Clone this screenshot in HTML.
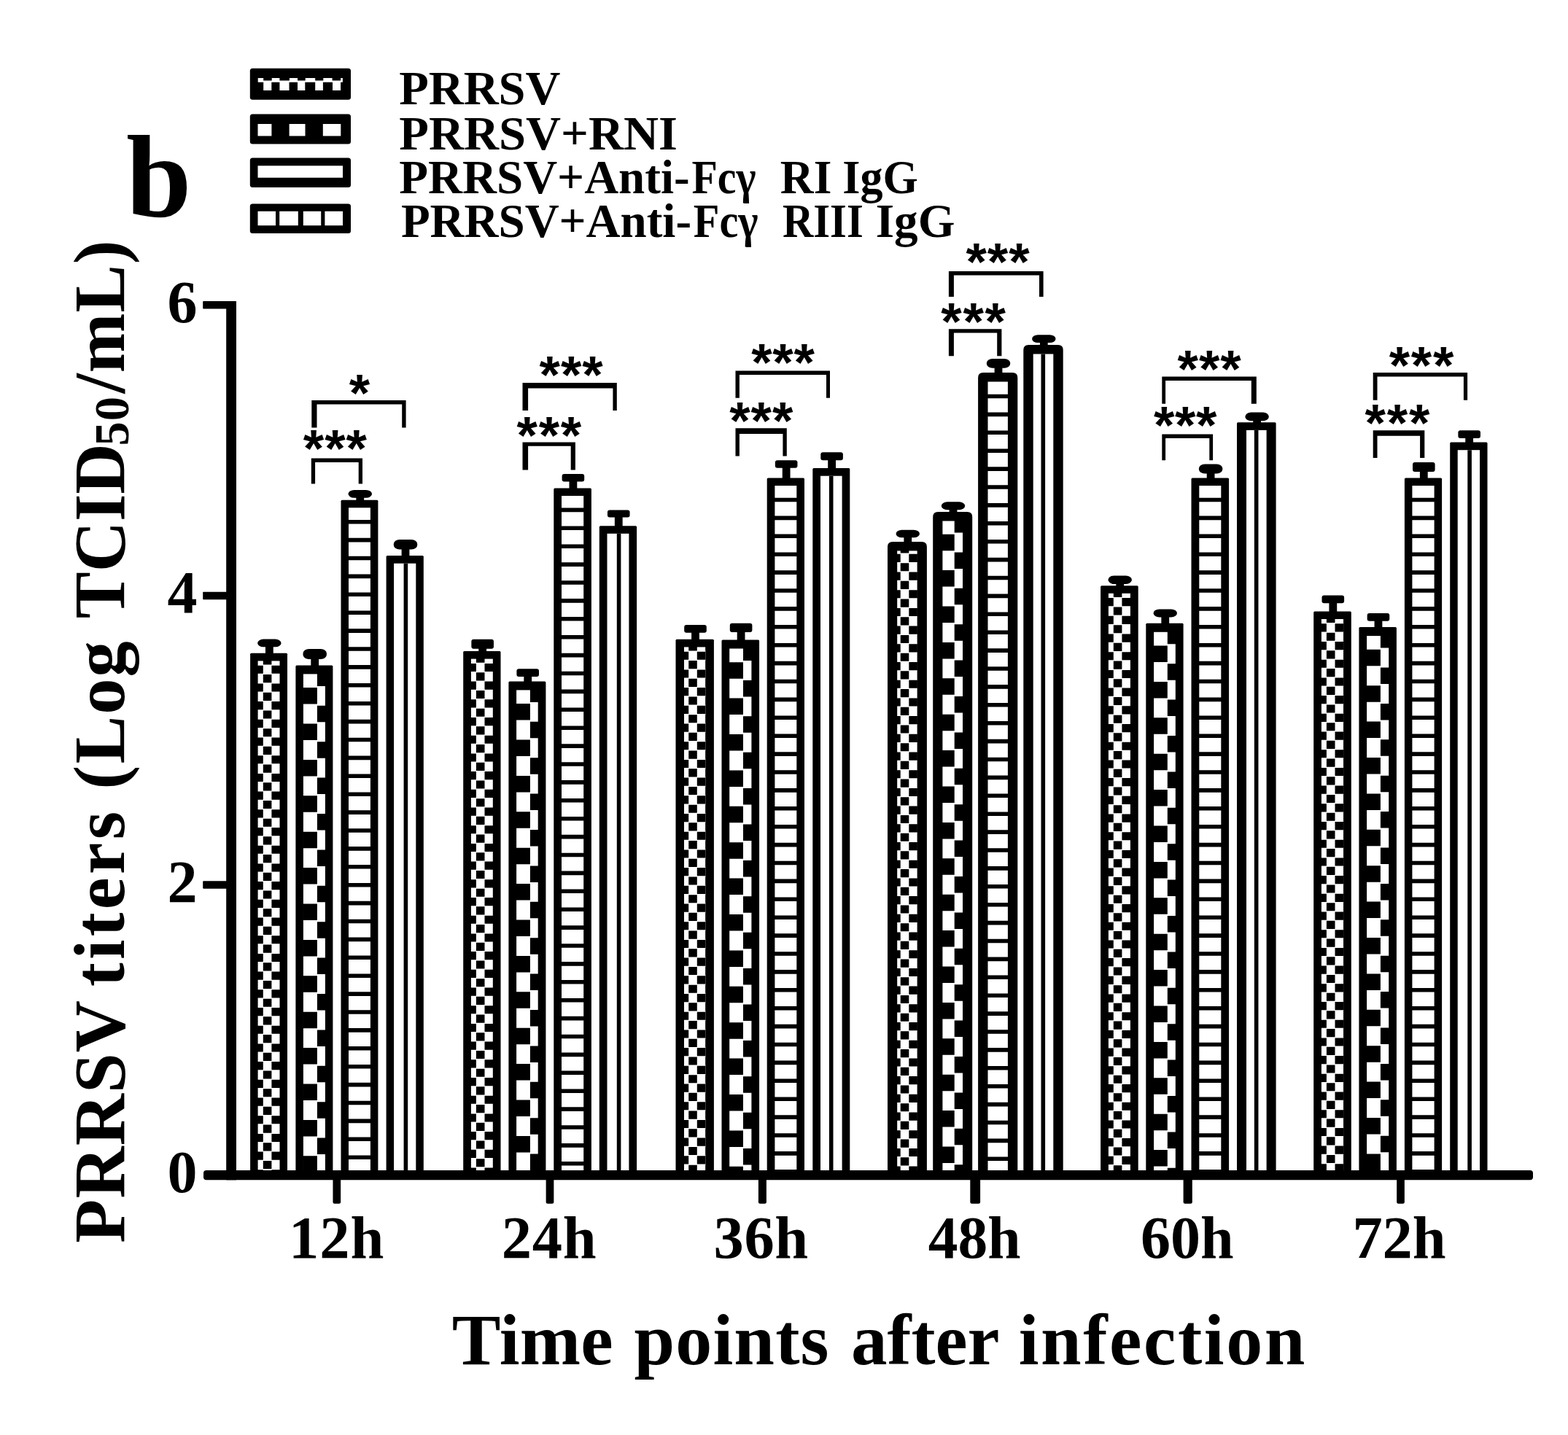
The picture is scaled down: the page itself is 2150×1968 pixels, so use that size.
<!DOCTYPE html>
<html lang="en"><head><meta charset="utf-8"><title>PRRSV titers</title>
<style>html,body{margin:0;padding:0;background:#fff}body{width:2150px;height:1968px}svg{display:block}text{font-family:"Liberation Serif","DejaVu Serif",serif;font-weight:bold;fill:#000}.st{font-family:"Liberation Sans","DejaVu Sans",sans-serif;font-weight:bold}</style></head><body>
<svg width="2150" height="1968" viewBox="0 0 2150 1968" role="img" aria-label="Bar chart of PRRSV titers at time points after infection">
<rect width="2150" height="1968" fill="#fff"/>
<g id="bars" fill="#000">
<path d="M343.1 1606V897.3Q343.1 895.8 344.6 895.8H392.5Q394 895.8 394 897.3V1606z"/>
<rect x="353.6" y="906.4" width="29.9" height="698.6" fill="#fff"/>
<path d="M352.9 912.7h7.9v11.15h-7.9zM352.9 937.4h7.9v11.15h-7.9zM352.9 962.1h7.9v11.15h-7.9zM352.9 986.8h7.9v11.15h-7.9zM352.9 1011.5h7.9v11.15h-7.9zM352.9 1036.2h7.9v11.15h-7.9zM352.9 1060.9h7.9v11.15h-7.9zM352.9 1085.6h7.9v11.15h-7.9zM352.9 1110.3h7.9v11.15h-7.9zM352.9 1135h7.9v11.15h-7.9zM352.9 1159.7h7.9v11.15h-7.9zM352.9 1184.4h7.9v11.15h-7.9zM352.9 1209.1h7.9v11.15h-7.9zM352.9 1233.8h7.9v11.15h-7.9zM352.9 1258.5h7.9v11.15h-7.9zM352.9 1283.2h7.9v11.15h-7.9zM352.9 1307.9h7.9v11.15h-7.9zM352.9 1332.6h7.9v11.15h-7.9zM352.9 1357.3h7.9v11.15h-7.9zM352.9 1382h7.9v11.15h-7.9zM352.9 1406.7h7.9v11.15h-7.9zM352.9 1431.4h7.9v11.15h-7.9zM352.9 1456.1h7.9v11.15h-7.9zM352.9 1480.8h7.9v11.15h-7.9zM352.9 1505.5h7.9v11.15h-7.9zM352.9 1530.2h7.9v11.15h-7.9zM352.9 1554.9h7.9v11.15h-7.9zM352.9 1579.6h7.9v11.15h-7.9zM352.9 1604.3h7.9v1.4h-7.9zM360.8 905.7h11.6v5.8h-11.6zM360.8 925.05h11.6v11.15h-11.6zM360.8 949.75h11.6v11.15h-11.6zM360.8 974.45h11.6v11.15h-11.6zM360.8 999.15h11.6v11.15h-11.6zM360.8 1023.85h11.6v11.15h-11.6zM360.8 1048.55h11.6v11.15h-11.6zM360.8 1073.25h11.6v11.15h-11.6zM360.8 1097.95h11.6v11.15h-11.6zM360.8 1122.65h11.6v11.15h-11.6zM360.8 1147.35h11.6v11.15h-11.6zM360.8 1172.05h11.6v11.15h-11.6zM360.8 1196.75h11.6v11.15h-11.6zM360.8 1221.45h11.6v11.15h-11.6zM360.8 1246.15h11.6v11.15h-11.6zM360.8 1270.85h11.6v11.15h-11.6zM360.8 1295.55h11.6v11.15h-11.6zM360.8 1320.25h11.6v11.15h-11.6zM360.8 1344.95h11.6v11.15h-11.6zM360.8 1369.65h11.6v11.15h-11.6zM360.8 1394.35h11.6v11.15h-11.6zM360.8 1419.05h11.6v11.15h-11.6zM360.8 1443.75h11.6v11.15h-11.6zM360.8 1468.45h11.6v11.15h-11.6zM360.8 1493.15h11.6v11.15h-11.6zM360.8 1517.85h11.6v11.15h-11.6zM360.8 1542.55h11.6v11.15h-11.6zM360.8 1567.25h11.6v11.15h-11.6zM360.8 1591.95h11.6v11.15h-11.6zM372.4 912.7h11.6v11.15h-11.6zM372.4 937.4h11.6v11.15h-11.6zM372.4 962.1h11.6v11.15h-11.6zM372.4 986.8h11.6v11.15h-11.6zM372.4 1011.5h11.6v11.15h-11.6zM372.4 1036.2h11.6v11.15h-11.6zM372.4 1060.9h11.6v11.15h-11.6zM372.4 1085.6h11.6v11.15h-11.6zM372.4 1110.3h11.6v11.15h-11.6zM372.4 1135h11.6v11.15h-11.6zM372.4 1159.7h11.6v11.15h-11.6zM372.4 1184.4h11.6v11.15h-11.6zM372.4 1209.1h11.6v11.15h-11.6zM372.4 1233.8h11.6v11.15h-11.6zM372.4 1258.5h11.6v11.15h-11.6zM372.4 1283.2h11.6v11.15h-11.6zM372.4 1307.9h11.6v11.15h-11.6zM372.4 1332.6h11.6v11.15h-11.6zM372.4 1357.3h11.6v11.15h-11.6zM372.4 1382h11.6v11.15h-11.6zM372.4 1406.7h11.6v11.15h-11.6zM372.4 1431.4h11.6v11.15h-11.6zM372.4 1456.1h11.6v11.15h-11.6zM372.4 1480.8h11.6v11.15h-11.6zM372.4 1505.5h11.6v11.15h-11.6zM372.4 1530.2h11.6v11.15h-11.6zM372.4 1554.9h11.6v11.15h-11.6zM372.4 1579.6h11.6v11.15h-11.6zM372.4 1604.3h11.6v1.4h-11.6zM384 905.7h0.2v5.8h-0.2zM384 925.05h0.2v11.15h-0.2zM384 949.75h0.2v11.15h-0.2zM384 974.45h0.2v11.15h-0.2zM384 999.15h0.2v11.15h-0.2zM384 1023.85h0.2v11.15h-0.2zM384 1048.55h0.2v11.15h-0.2zM384 1073.25h0.2v11.15h-0.2zM384 1097.95h0.2v11.15h-0.2zM384 1122.65h0.2v11.15h-0.2zM384 1147.35h0.2v11.15h-0.2zM384 1172.05h0.2v11.15h-0.2zM384 1196.75h0.2v11.15h-0.2zM384 1221.45h0.2v11.15h-0.2zM384 1246.15h0.2v11.15h-0.2zM384 1270.85h0.2v11.15h-0.2zM384 1295.55h0.2v11.15h-0.2zM384 1320.25h0.2v11.15h-0.2zM384 1344.95h0.2v11.15h-0.2zM384 1369.65h0.2v11.15h-0.2zM384 1394.35h0.2v11.15h-0.2zM384 1419.05h0.2v11.15h-0.2zM384 1443.75h0.2v11.15h-0.2zM384 1468.45h0.2v11.15h-0.2zM384 1493.15h0.2v11.15h-0.2zM384 1517.85h0.2v11.15h-0.2zM384 1542.55h0.2v11.15h-0.2zM384 1567.25h0.2v11.15h-0.2zM384 1591.95h0.2v11.15h-0.2z"/>
<rect x="363.95" y="879.6" width="10.8" height="19.2"/>
<rect x="353.15" y="876.6" width="32.4" height="10.7" rx="8" ry="5.35"/>
<path d="M405.4 1606V913.9Q405.4 912.4 406.9 912.4H454.9Q456.4 912.4 456.4 913.9V1606z"/>
<rect x="415.9" y="924.4" width="30" height="680.6" fill="#fff"/>
<path d="M415.2 943.1h19.7v22.5h-19.7zM415.2 992.5h19.7v22.5h-19.7zM415.2 1041.9h19.7v22.5h-19.7zM415.2 1091.3h19.7v22.5h-19.7zM415.2 1140.7h19.7v22.5h-19.7zM415.2 1190.1h19.7v22.5h-19.7zM415.2 1239.5h19.7v22.5h-19.7zM415.2 1288.9h19.7v22.5h-19.7zM415.2 1338.3h19.7v22.5h-19.7zM415.2 1387.7h19.7v22.5h-19.7zM415.2 1437.1h19.7v22.5h-19.7zM415.2 1486.5h19.7v22.5h-19.7zM415.2 1535.9h19.7v22.5h-19.7zM415.2 1585.3h19.7v20.4h-19.7zM434.9 923.7h11.7v17.2h-11.7zM434.9 967.8h11.7v22.5h-11.7zM434.9 1017.2h11.7v22.5h-11.7zM434.9 1066.6h11.7v22.5h-11.7zM434.9 1116h11.7v22.5h-11.7zM434.9 1165.4h11.7v22.5h-11.7zM434.9 1214.8h11.7v22.5h-11.7zM434.9 1264.2h11.7v22.5h-11.7zM434.9 1313.6h11.7v22.5h-11.7zM434.9 1363h11.7v22.5h-11.7zM434.9 1412.4h11.7v22.5h-11.7zM434.9 1461.8h11.7v22.5h-11.7zM434.9 1511.2h11.7v22.5h-11.7zM434.9 1560.6h11.7v22.5h-11.7z"/>
<rect x="426.3" y="893" width="10.8" height="22.4"/>
<rect x="415.5" y="890" width="32.4" height="14" rx="8" ry="6"/>
<path d="M467.5 1606V687.2Q467.5 685.7 469 685.7H516.9Q518.4 685.7 518.4 687.2V1606z"/>
<rect x="478" y="696.3" width="29.9" height="908.7" fill="#fff"/>
<path d="M477.3 712.9h31.3v5.6h-31.3zM477.3 737.8h31.3v5.6h-31.3zM477.3 762.7h31.3v5.6h-31.3zM477.3 787.6h31.3v5.6h-31.3zM477.3 812.5h31.3v5.6h-31.3zM477.3 837.4h31.3v5.6h-31.3zM477.3 862.3h31.3v5.6h-31.3zM477.3 887.2h31.3v5.6h-31.3zM477.3 912.1h31.3v5.6h-31.3zM477.3 937h31.3v5.6h-31.3zM477.3 961.9h31.3v5.6h-31.3zM477.3 986.8h31.3v5.6h-31.3zM477.3 1011.7h31.3v5.6h-31.3zM477.3 1036.6h31.3v5.6h-31.3zM477.3 1061.5h31.3v5.6h-31.3zM477.3 1086.4h31.3v5.6h-31.3zM477.3 1111.3h31.3v5.6h-31.3zM477.3 1136.2h31.3v5.6h-31.3zM477.3 1161.1h31.3v5.6h-31.3zM477.3 1186h31.3v5.6h-31.3zM477.3 1210.9h31.3v5.6h-31.3zM477.3 1235.8h31.3v5.6h-31.3zM477.3 1260.7h31.3v5.6h-31.3zM477.3 1285.6h31.3v5.6h-31.3zM477.3 1310.5h31.3v5.6h-31.3zM477.3 1335.4h31.3v5.6h-31.3zM477.3 1360.3h31.3v5.6h-31.3zM477.3 1385.2h31.3v5.6h-31.3zM477.3 1410.1h31.3v5.6h-31.3zM477.3 1435h31.3v5.6h-31.3zM477.3 1459.9h31.3v5.6h-31.3zM477.3 1484.8h31.3v5.6h-31.3zM477.3 1509.7h31.3v5.6h-31.3zM477.3 1534.6h31.3v5.6h-31.3zM477.3 1559.5h31.3v5.6h-31.3zM477.3 1584.4h31.3v5.6h-31.3z"/>
<rect x="488.35" y="674.9" width="10.8" height="13.8"/>
<rect x="477.55" y="671.9" width="32.4" height="10.9" rx="8" ry="5.45"/>
<path d="M529.6 1606V763.6Q529.6 762.1 531.1 762.1H579.3Q580.8 762.1 580.8 763.6V1606z"/>
<rect x="540.1" y="772.7" width="30.2" height="832.3" fill="#fff"/>
<path d="M553.6 772.7h5.6v832.3h-5.6z"/>
<rect x="550.6" y="743" width="10.8" height="22.1"/>
<rect x="539.8" y="740" width="32.4" height="13.5" rx="8" ry="6"/>
<path d="M635.2 1606V894.5Q635.2 893 636.7 893H685Q686.5 893 686.5 894.5V1606z"/>
<rect x="645.9" y="903.6" width="29.9" height="701.4" fill="#fff"/>
<path d="M645.2 909.9h7.7v11.15h-7.7zM645.2 934.6h7.7v11.15h-7.7zM645.2 959.3h7.7v11.15h-7.7zM645.2 984h7.7v11.15h-7.7zM645.2 1008.7h7.7v11.15h-7.7zM645.2 1033.4h7.7v11.15h-7.7zM645.2 1058.1h7.7v11.15h-7.7zM645.2 1082.8h7.7v11.15h-7.7zM645.2 1107.5h7.7v11.15h-7.7zM645.2 1132.2h7.7v11.15h-7.7zM645.2 1156.9h7.7v11.15h-7.7zM645.2 1181.6h7.7v11.15h-7.7zM645.2 1206.3h7.7v11.15h-7.7zM645.2 1231h7.7v11.15h-7.7zM645.2 1255.7h7.7v11.15h-7.7zM645.2 1280.4h7.7v11.15h-7.7zM645.2 1305.1h7.7v11.15h-7.7zM645.2 1329.8h7.7v11.15h-7.7zM645.2 1354.5h7.7v11.15h-7.7zM645.2 1379.2h7.7v11.15h-7.7zM645.2 1403.9h7.7v11.15h-7.7zM645.2 1428.6h7.7v11.15h-7.7zM645.2 1453.3h7.7v11.15h-7.7zM645.2 1478h7.7v11.15h-7.7zM645.2 1502.7h7.7v11.15h-7.7zM645.2 1527.4h7.7v11.15h-7.7zM645.2 1552.1h7.7v11.15h-7.7zM645.2 1576.8h7.7v11.15h-7.7zM645.2 1601.5h7.7v4.2h-7.7zM652.9 902.9h11.6v5.8h-11.6zM652.9 922.25h11.6v11.15h-11.6zM652.9 946.95h11.6v11.15h-11.6zM652.9 971.65h11.6v11.15h-11.6zM652.9 996.35h11.6v11.15h-11.6zM652.9 1021.05h11.6v11.15h-11.6zM652.9 1045.75h11.6v11.15h-11.6zM652.9 1070.45h11.6v11.15h-11.6zM652.9 1095.15h11.6v11.15h-11.6zM652.9 1119.85h11.6v11.15h-11.6zM652.9 1144.55h11.6v11.15h-11.6zM652.9 1169.25h11.6v11.15h-11.6zM652.9 1193.95h11.6v11.15h-11.6zM652.9 1218.65h11.6v11.15h-11.6zM652.9 1243.35h11.6v11.15h-11.6zM652.9 1268.05h11.6v11.15h-11.6zM652.9 1292.75h11.6v11.15h-11.6zM652.9 1317.45h11.6v11.15h-11.6zM652.9 1342.15h11.6v11.15h-11.6zM652.9 1366.85h11.6v11.15h-11.6zM652.9 1391.55h11.6v11.15h-11.6zM652.9 1416.25h11.6v11.15h-11.6zM652.9 1440.95h11.6v11.15h-11.6zM652.9 1465.65h11.6v11.15h-11.6zM652.9 1490.35h11.6v11.15h-11.6zM652.9 1515.05h11.6v11.15h-11.6zM652.9 1539.75h11.6v11.15h-11.6zM652.9 1564.45h11.6v11.15h-11.6zM652.9 1589.15h11.6v11.15h-11.6zM664.5 909.9h11.6v11.15h-11.6zM664.5 934.6h11.6v11.15h-11.6zM664.5 959.3h11.6v11.15h-11.6zM664.5 984h11.6v11.15h-11.6zM664.5 1008.7h11.6v11.15h-11.6zM664.5 1033.4h11.6v11.15h-11.6zM664.5 1058.1h11.6v11.15h-11.6zM664.5 1082.8h11.6v11.15h-11.6zM664.5 1107.5h11.6v11.15h-11.6zM664.5 1132.2h11.6v11.15h-11.6zM664.5 1156.9h11.6v11.15h-11.6zM664.5 1181.6h11.6v11.15h-11.6zM664.5 1206.3h11.6v11.15h-11.6zM664.5 1231h11.6v11.15h-11.6zM664.5 1255.7h11.6v11.15h-11.6zM664.5 1280.4h11.6v11.15h-11.6zM664.5 1305.1h11.6v11.15h-11.6zM664.5 1329.8h11.6v11.15h-11.6zM664.5 1354.5h11.6v11.15h-11.6zM664.5 1379.2h11.6v11.15h-11.6zM664.5 1403.9h11.6v11.15h-11.6zM664.5 1428.6h11.6v11.15h-11.6zM664.5 1453.3h11.6v11.15h-11.6zM664.5 1478h11.6v11.15h-11.6zM664.5 1502.7h11.6v11.15h-11.6zM664.5 1527.4h11.6v11.15h-11.6zM664.5 1552.1h11.6v11.15h-11.6zM664.5 1576.8h11.6v11.15h-11.6zM664.5 1601.5h11.6v4.2h-11.6zM676.1 902.9h0.4v5.8h-0.4zM676.1 922.25h0.4v11.15h-0.4zM676.1 946.95h0.4v11.15h-0.4zM676.1 971.65h0.4v11.15h-0.4zM676.1 996.35h0.4v11.15h-0.4zM676.1 1021.05h0.4v11.15h-0.4zM676.1 1045.75h0.4v11.15h-0.4zM676.1 1070.45h0.4v11.15h-0.4zM676.1 1095.15h0.4v11.15h-0.4zM676.1 1119.85h0.4v11.15h-0.4zM676.1 1144.55h0.4v11.15h-0.4zM676.1 1169.25h0.4v11.15h-0.4zM676.1 1193.95h0.4v11.15h-0.4zM676.1 1218.65h0.4v11.15h-0.4zM676.1 1243.35h0.4v11.15h-0.4zM676.1 1268.05h0.4v11.15h-0.4zM676.1 1292.75h0.4v11.15h-0.4zM676.1 1317.45h0.4v11.15h-0.4zM676.1 1342.15h0.4v11.15h-0.4zM676.1 1366.85h0.4v11.15h-0.4zM676.1 1391.55h0.4v11.15h-0.4zM676.1 1416.25h0.4v11.15h-0.4zM676.1 1440.95h0.4v11.15h-0.4zM676.1 1465.65h0.4v11.15h-0.4zM676.1 1490.35h0.4v11.15h-0.4zM676.1 1515.05h0.4v11.15h-0.4zM676.1 1539.75h0.4v11.15h-0.4zM676.1 1564.45h0.4v11.15h-0.4zM676.1 1589.15h0.4v11.15h-0.4z"/>
<rect x="656.25" y="879.8" width="10.8" height="16.2"/>
<rect x="646.35" y="876.8" width="30.6" height="12.9" rx="3" ry="3"/>
<path d="M697.4 1606V935.9Q697.4 934.4 698.9 934.4H746.9Q748.4 934.4 748.4 935.9V1606z"/>
<rect x="708.1" y="946.4" width="29.6" height="658.6" fill="#fff"/>
<path d="M707.4 965.1h19.5v22.5h-19.5zM707.4 1014.5h19.5v22.5h-19.5zM707.4 1063.9h19.5v22.5h-19.5zM707.4 1113.3h19.5v22.5h-19.5zM707.4 1162.7h19.5v22.5h-19.5zM707.4 1212.1h19.5v22.5h-19.5zM707.4 1261.5h19.5v22.5h-19.5zM707.4 1310.9h19.5v22.5h-19.5zM707.4 1360.3h19.5v22.5h-19.5zM707.4 1409.7h19.5v22.5h-19.5zM707.4 1459.1h19.5v22.5h-19.5zM707.4 1508.5h19.5v22.5h-19.5zM707.4 1557.9h19.5v22.5h-19.5zM726.9 945.7h11.5v17.2h-11.5zM726.9 989.8h11.5v22.5h-11.5zM726.9 1039.2h11.5v22.5h-11.5zM726.9 1088.6h11.5v22.5h-11.5zM726.9 1138h11.5v22.5h-11.5zM726.9 1187.4h11.5v22.5h-11.5zM726.9 1236.8h11.5v22.5h-11.5zM726.9 1286.2h11.5v22.5h-11.5zM726.9 1335.6h11.5v22.5h-11.5zM726.9 1385h11.5v22.5h-11.5zM726.9 1434.4h11.5v22.5h-11.5zM726.9 1483.8h11.5v22.5h-11.5zM726.9 1533.2h11.5v22.5h-11.5zM726.9 1582.6h11.5v22.5h-11.5z"/>
<rect x="718.3" y="920.3" width="10.8" height="17.1"/>
<rect x="708.4" y="917.3" width="30.6" height="10.7" rx="3" ry="3"/>
<path d="M759.3 1606V670.9Q759.3 669.4 760.8 669.4H809.4Q810.9 669.4 810.9 670.9V1606z"/>
<rect x="770" y="680" width="30.2" height="925" fill="#fff"/>
<path d="M769.3 696.6h31.6v5.6h-31.6zM769.3 721.5h31.6v5.6h-31.6zM769.3 746.4h31.6v5.6h-31.6zM769.3 771.3h31.6v5.6h-31.6zM769.3 796.2h31.6v5.6h-31.6zM769.3 821.1h31.6v5.6h-31.6zM769.3 846h31.6v5.6h-31.6zM769.3 870.9h31.6v5.6h-31.6zM769.3 895.8h31.6v5.6h-31.6zM769.3 920.7h31.6v5.6h-31.6zM769.3 945.6h31.6v5.6h-31.6zM769.3 970.5h31.6v5.6h-31.6zM769.3 995.4h31.6v5.6h-31.6zM769.3 1020.3h31.6v5.6h-31.6zM769.3 1045.2h31.6v5.6h-31.6zM769.3 1070.1h31.6v5.6h-31.6zM769.3 1095h31.6v5.6h-31.6zM769.3 1119.9h31.6v5.6h-31.6zM769.3 1144.8h31.6v5.6h-31.6zM769.3 1169.7h31.6v5.6h-31.6zM769.3 1194.6h31.6v5.6h-31.6zM769.3 1219.5h31.6v5.6h-31.6zM769.3 1244.4h31.6v5.6h-31.6zM769.3 1269.3h31.6v5.6h-31.6zM769.3 1294.2h31.6v5.6h-31.6zM769.3 1319.1h31.6v5.6h-31.6zM769.3 1344h31.6v5.6h-31.6zM769.3 1368.9h31.6v5.6h-31.6zM769.3 1393.8h31.6v5.6h-31.6zM769.3 1418.7h31.6v5.6h-31.6zM769.3 1443.6h31.6v5.6h-31.6zM769.3 1468.5h31.6v5.6h-31.6zM769.3 1493.4h31.6v5.6h-31.6zM769.3 1518.3h31.6v5.6h-31.6zM769.3 1543.2h31.6v5.6h-31.6zM769.3 1568.1h31.6v5.6h-31.6zM769.3 1593h31.6v5.6h-31.6z"/>
<rect x="780.5" y="653" width="10.8" height="19.4"/>
<rect x="770.6" y="650" width="30.6" height="10.6" rx="3" ry="3"/>
<path d="M821.8 1606V722.7Q821.8 721.2 823.3 721.2H871.6Q873.1 721.2 873.1 722.7V1606z"/>
<rect x="832.5" y="731.8" width="29.9" height="873.2" fill="#fff"/>
<path d="M845.8 731.8h5.6v873.2h-5.6z"/>
<rect x="842.85" y="702.4" width="10.8" height="21.8"/>
<rect x="832.95" y="699.4" width="30.6" height="10.2" rx="3" ry="3"/>
<path d="M926.5 1606V878.3Q926.5 876.8 928 876.8H977.4Q978.9 876.8 978.9 878.3V1606z"/>
<rect x="938" y="887.4" width="29.4" height="717.6" fill="#fff"/>
<path d="M937.3 893.7h6.9v11.15h-6.9zM937.3 918.4h6.9v11.15h-6.9zM937.3 943.1h6.9v11.15h-6.9zM937.3 967.8h6.9v11.15h-6.9zM937.3 992.5h6.9v11.15h-6.9zM937.3 1017.2h6.9v11.15h-6.9zM937.3 1041.9h6.9v11.15h-6.9zM937.3 1066.6h6.9v11.15h-6.9zM937.3 1091.3h6.9v11.15h-6.9zM937.3 1116h6.9v11.15h-6.9zM937.3 1140.7h6.9v11.15h-6.9zM937.3 1165.4h6.9v11.15h-6.9zM937.3 1190.1h6.9v11.15h-6.9zM937.3 1214.8h6.9v11.15h-6.9zM937.3 1239.5h6.9v11.15h-6.9zM937.3 1264.2h6.9v11.15h-6.9zM937.3 1288.9h6.9v11.15h-6.9zM937.3 1313.6h6.9v11.15h-6.9zM937.3 1338.3h6.9v11.15h-6.9zM937.3 1363h6.9v11.15h-6.9zM937.3 1387.7h6.9v11.15h-6.9zM937.3 1412.4h6.9v11.15h-6.9zM937.3 1437.1h6.9v11.15h-6.9zM937.3 1461.8h6.9v11.15h-6.9zM937.3 1486.5h6.9v11.15h-6.9zM937.3 1511.2h6.9v11.15h-6.9zM937.3 1535.9h6.9v11.15h-6.9zM937.3 1560.6h6.9v11.15h-6.9zM937.3 1585.3h6.9v11.15h-6.9zM944.2 886.7h11.6v5.8h-11.6zM944.2 906.05h11.6v11.15h-11.6zM944.2 930.75h11.6v11.15h-11.6zM944.2 955.45h11.6v11.15h-11.6zM944.2 980.15h11.6v11.15h-11.6zM944.2 1004.85h11.6v11.15h-11.6zM944.2 1029.55h11.6v11.15h-11.6zM944.2 1054.25h11.6v11.15h-11.6zM944.2 1078.95h11.6v11.15h-11.6zM944.2 1103.65h11.6v11.15h-11.6zM944.2 1128.35h11.6v11.15h-11.6zM944.2 1153.05h11.6v11.15h-11.6zM944.2 1177.75h11.6v11.15h-11.6zM944.2 1202.45h11.6v11.15h-11.6zM944.2 1227.15h11.6v11.15h-11.6zM944.2 1251.85h11.6v11.15h-11.6zM944.2 1276.55h11.6v11.15h-11.6zM944.2 1301.25h11.6v11.15h-11.6zM944.2 1325.95h11.6v11.15h-11.6zM944.2 1350.65h11.6v11.15h-11.6zM944.2 1375.35h11.6v11.15h-11.6zM944.2 1400.05h11.6v11.15h-11.6zM944.2 1424.75h11.6v11.15h-11.6zM944.2 1449.45h11.6v11.15h-11.6zM944.2 1474.15h11.6v11.15h-11.6zM944.2 1498.85h11.6v11.15h-11.6zM944.2 1523.55h11.6v11.15h-11.6zM944.2 1548.25h11.6v11.15h-11.6zM944.2 1572.95h11.6v11.15h-11.6zM944.2 1597.65h11.6v8.05h-11.6zM955.8 893.7h11.6v11.15h-11.6zM955.8 918.4h11.6v11.15h-11.6zM955.8 943.1h11.6v11.15h-11.6zM955.8 967.8h11.6v11.15h-11.6zM955.8 992.5h11.6v11.15h-11.6zM955.8 1017.2h11.6v11.15h-11.6zM955.8 1041.9h11.6v11.15h-11.6zM955.8 1066.6h11.6v11.15h-11.6zM955.8 1091.3h11.6v11.15h-11.6zM955.8 1116h11.6v11.15h-11.6zM955.8 1140.7h11.6v11.15h-11.6zM955.8 1165.4h11.6v11.15h-11.6zM955.8 1190.1h11.6v11.15h-11.6zM955.8 1214.8h11.6v11.15h-11.6zM955.8 1239.5h11.6v11.15h-11.6zM955.8 1264.2h11.6v11.15h-11.6zM955.8 1288.9h11.6v11.15h-11.6zM955.8 1313.6h11.6v11.15h-11.6zM955.8 1338.3h11.6v11.15h-11.6zM955.8 1363h11.6v11.15h-11.6zM955.8 1387.7h11.6v11.15h-11.6zM955.8 1412.4h11.6v11.15h-11.6zM955.8 1437.1h11.6v11.15h-11.6zM955.8 1461.8h11.6v11.15h-11.6zM955.8 1486.5h11.6v11.15h-11.6zM955.8 1511.2h11.6v11.15h-11.6zM955.8 1535.9h11.6v11.15h-11.6zM955.8 1560.6h11.6v11.15h-11.6zM955.8 1585.3h11.6v11.15h-11.6zM967.4 886.7h0.7v5.8h-0.7zM967.4 906.05h0.7v11.15h-0.7zM967.4 930.75h0.7v11.15h-0.7zM967.4 955.45h0.7v11.15h-0.7zM967.4 980.15h0.7v11.15h-0.7zM967.4 1004.85h0.7v11.15h-0.7zM967.4 1029.55h0.7v11.15h-0.7zM967.4 1054.25h0.7v11.15h-0.7zM967.4 1078.95h0.7v11.15h-0.7zM967.4 1103.65h0.7v11.15h-0.7zM967.4 1128.35h0.7v11.15h-0.7zM967.4 1153.05h0.7v11.15h-0.7zM967.4 1177.75h0.7v11.15h-0.7zM967.4 1202.45h0.7v11.15h-0.7zM967.4 1227.15h0.7v11.15h-0.7zM967.4 1251.85h0.7v11.15h-0.7zM967.4 1276.55h0.7v11.15h-0.7zM967.4 1301.25h0.7v11.15h-0.7zM967.4 1325.95h0.7v11.15h-0.7zM967.4 1350.65h0.7v11.15h-0.7zM967.4 1375.35h0.7v11.15h-0.7zM967.4 1400.05h0.7v11.15h-0.7zM967.4 1424.75h0.7v11.15h-0.7zM967.4 1449.45h0.7v11.15h-0.7zM967.4 1474.15h0.7v11.15h-0.7zM967.4 1498.85h0.7v11.15h-0.7zM967.4 1523.55h0.7v11.15h-0.7zM967.4 1548.25h0.7v11.15h-0.7zM967.4 1572.95h0.7v11.15h-0.7zM967.4 1597.65h0.7v8.05h-0.7z"/>
<rect x="948.1" y="860" width="10.8" height="19.8"/>
<rect x="938.2" y="857" width="30.6" height="10.7" rx="3" ry="3"/>
<path d="M989.5 1606V879Q989.5 877.5 991 877.5H1039.6Q1041.1 877.5 1041.1 879V1606z"/>
<rect x="1000.2" y="889.5" width="30.2" height="715.5" fill="#fff"/>
<path d="M999.5 908.2h19.5v22.5h-19.5zM999.5 957.6h19.5v22.5h-19.5zM999.5 1007h19.5v22.5h-19.5zM999.5 1056.4h19.5v22.5h-19.5zM999.5 1105.8h19.5v22.5h-19.5zM999.5 1155.2h19.5v22.5h-19.5zM999.5 1204.6h19.5v22.5h-19.5zM999.5 1254h19.5v22.5h-19.5zM999.5 1303.4h19.5v22.5h-19.5zM999.5 1352.8h19.5v22.5h-19.5zM999.5 1402.2h19.5v22.5h-19.5zM999.5 1451.6h19.5v22.5h-19.5zM999.5 1501h19.5v22.5h-19.5zM999.5 1550.4h19.5v22.5h-19.5zM999.5 1599.8h19.5v5.9h-19.5zM1019 888.8h12.1v17.2h-12.1zM1019 932.9h12.1v22.5h-12.1zM1019 982.3h12.1v22.5h-12.1zM1019 1031.7h12.1v22.5h-12.1zM1019 1081.1h12.1v22.5h-12.1zM1019 1130.5h12.1v22.5h-12.1zM1019 1179.9h12.1v22.5h-12.1zM1019 1229.3h12.1v22.5h-12.1zM1019 1278.7h12.1v22.5h-12.1zM1019 1328.1h12.1v22.5h-12.1zM1019 1377.5h12.1v22.5h-12.1zM1019 1426.9h12.1v22.5h-12.1zM1019 1476.3h12.1v22.5h-12.1zM1019 1525.7h12.1v22.5h-12.1zM1019 1575.1h12.1v22.5h-12.1z"/>
<rect x="1010.7" y="857.8" width="10.8" height="22.7"/>
<rect x="1000.8" y="854.8" width="30.6" height="12.2" rx="3" ry="3"/>
<path d="M1051.7 1606V657Q1051.7 655.5 1053.2 655.5H1101.5Q1103 655.5 1103 657V1606z"/>
<rect x="1062.4" y="666.1" width="29.9" height="938.9" fill="#fff"/>
<path d="M1061.7 682.7h31.3v5.6h-31.3zM1061.7 707.6h31.3v5.6h-31.3zM1061.7 732.5h31.3v5.6h-31.3zM1061.7 757.4h31.3v5.6h-31.3zM1061.7 782.3h31.3v5.6h-31.3zM1061.7 807.2h31.3v5.6h-31.3zM1061.7 832.1h31.3v5.6h-31.3zM1061.7 857h31.3v5.6h-31.3zM1061.7 881.9h31.3v5.6h-31.3zM1061.7 906.8h31.3v5.6h-31.3zM1061.7 931.7h31.3v5.6h-31.3zM1061.7 956.6h31.3v5.6h-31.3zM1061.7 981.5h31.3v5.6h-31.3zM1061.7 1006.4h31.3v5.6h-31.3zM1061.7 1031.3h31.3v5.6h-31.3zM1061.7 1056.2h31.3v5.6h-31.3zM1061.7 1081.1h31.3v5.6h-31.3zM1061.7 1106h31.3v5.6h-31.3zM1061.7 1130.9h31.3v5.6h-31.3zM1061.7 1155.8h31.3v5.6h-31.3zM1061.7 1180.7h31.3v5.6h-31.3zM1061.7 1205.6h31.3v5.6h-31.3zM1061.7 1230.5h31.3v5.6h-31.3zM1061.7 1255.4h31.3v5.6h-31.3zM1061.7 1280.3h31.3v5.6h-31.3zM1061.7 1305.2h31.3v5.6h-31.3zM1061.7 1330.1h31.3v5.6h-31.3zM1061.7 1355h31.3v5.6h-31.3zM1061.7 1379.9h31.3v5.6h-31.3zM1061.7 1404.8h31.3v5.6h-31.3zM1061.7 1429.7h31.3v5.6h-31.3zM1061.7 1454.6h31.3v5.6h-31.3zM1061.7 1479.5h31.3v5.6h-31.3zM1061.7 1504.4h31.3v5.6h-31.3zM1061.7 1529.3h31.3v5.6h-31.3zM1061.7 1554.2h31.3v5.6h-31.3zM1061.7 1579.1h31.3v5.6h-31.3zM1061.7 1604h31.3v1.7h-31.3z"/>
<rect x="1072.75" y="634.2" width="10.8" height="24.3"/>
<rect x="1062.85" y="631.2" width="30.6" height="10.6" rx="3" ry="3"/>
<path d="M1114.3 1606V643.6Q1114.3 642.1 1115.8 642.1H1163.8Q1165.3 642.1 1165.3 643.6V1606z"/>
<rect x="1125" y="652.7" width="29.6" height="952.3" fill="#fff"/>
<path d="M1136.9 652.7h5.6v952.3h-5.6z"/>
<rect x="1135.2" y="623.3" width="10.8" height="21.8"/>
<rect x="1125.3" y="620.3" width="30.6" height="10.9" rx="3" ry="3"/>
<path d="M1217 1606V749.9Q1217 742.9 1224 742.9H1263.9Q1270.9 742.9 1270.9 749.9V1606z"/>
<rect x="1230.2" y="755.4" width="27.5" height="849.6" fill="#fff"/>
<path d="M1229.5 759.8h5.2v11.15h-5.2zM1229.5 784.5h5.2v11.15h-5.2zM1229.5 809.2h5.2v11.15h-5.2zM1229.5 833.9h5.2v11.15h-5.2zM1229.5 858.6h5.2v11.15h-5.2zM1229.5 883.3h5.2v11.15h-5.2zM1229.5 908h5.2v11.15h-5.2zM1229.5 932.7h5.2v11.15h-5.2zM1229.5 957.4h5.2v11.15h-5.2zM1229.5 982.1h5.2v11.15h-5.2zM1229.5 1006.8h5.2v11.15h-5.2zM1229.5 1031.5h5.2v11.15h-5.2zM1229.5 1056.2h5.2v11.15h-5.2zM1229.5 1080.9h5.2v11.15h-5.2zM1229.5 1105.6h5.2v11.15h-5.2zM1229.5 1130.3h5.2v11.15h-5.2zM1229.5 1155h5.2v11.15h-5.2zM1229.5 1179.7h5.2v11.15h-5.2zM1229.5 1204.4h5.2v11.15h-5.2zM1229.5 1229.1h5.2v11.15h-5.2zM1229.5 1253.8h5.2v11.15h-5.2zM1229.5 1278.5h5.2v11.15h-5.2zM1229.5 1303.2h5.2v11.15h-5.2zM1229.5 1327.9h5.2v11.15h-5.2zM1229.5 1352.6h5.2v11.15h-5.2zM1229.5 1377.3h5.2v11.15h-5.2zM1229.5 1402h5.2v11.15h-5.2zM1229.5 1426.7h5.2v11.15h-5.2zM1229.5 1451.4h5.2v11.15h-5.2zM1229.5 1476.1h5.2v11.15h-5.2zM1229.5 1500.8h5.2v11.15h-5.2zM1229.5 1525.5h5.2v11.15h-5.2zM1229.5 1550.2h5.2v11.15h-5.2zM1229.5 1574.9h5.2v11.15h-5.2zM1229.5 1599.6h5.2v6.1h-5.2zM1234.7 754.7h11.6v3.9h-11.6zM1234.7 772.15h11.6v11.15h-11.6zM1234.7 796.85h11.6v11.15h-11.6zM1234.7 821.55h11.6v11.15h-11.6zM1234.7 846.25h11.6v11.15h-11.6zM1234.7 870.95h11.6v11.15h-11.6zM1234.7 895.65h11.6v11.15h-11.6zM1234.7 920.35h11.6v11.15h-11.6zM1234.7 945.05h11.6v11.15h-11.6zM1234.7 969.75h11.6v11.15h-11.6zM1234.7 994.45h11.6v11.15h-11.6zM1234.7 1019.15h11.6v11.15h-11.6zM1234.7 1043.85h11.6v11.15h-11.6zM1234.7 1068.55h11.6v11.15h-11.6zM1234.7 1093.25h11.6v11.15h-11.6zM1234.7 1117.95h11.6v11.15h-11.6zM1234.7 1142.65h11.6v11.15h-11.6zM1234.7 1167.35h11.6v11.15h-11.6zM1234.7 1192.05h11.6v11.15h-11.6zM1234.7 1216.75h11.6v11.15h-11.6zM1234.7 1241.45h11.6v11.15h-11.6zM1234.7 1266.15h11.6v11.15h-11.6zM1234.7 1290.85h11.6v11.15h-11.6zM1234.7 1315.55h11.6v11.15h-11.6zM1234.7 1340.25h11.6v11.15h-11.6zM1234.7 1364.95h11.6v11.15h-11.6zM1234.7 1389.65h11.6v11.15h-11.6zM1234.7 1414.35h11.6v11.15h-11.6zM1234.7 1439.05h11.6v11.15h-11.6zM1234.7 1463.75h11.6v11.15h-11.6zM1234.7 1488.45h11.6v11.15h-11.6zM1234.7 1513.15h11.6v11.15h-11.6zM1234.7 1537.85h11.6v11.15h-11.6zM1234.7 1562.55h11.6v11.15h-11.6zM1234.7 1587.25h11.6v11.15h-11.6zM1246.3 759.8h11.6v11.15h-11.6zM1246.3 784.5h11.6v11.15h-11.6zM1246.3 809.2h11.6v11.15h-11.6zM1246.3 833.9h11.6v11.15h-11.6zM1246.3 858.6h11.6v11.15h-11.6zM1246.3 883.3h11.6v11.15h-11.6zM1246.3 908h11.6v11.15h-11.6zM1246.3 932.7h11.6v11.15h-11.6zM1246.3 957.4h11.6v11.15h-11.6zM1246.3 982.1h11.6v11.15h-11.6zM1246.3 1006.8h11.6v11.15h-11.6zM1246.3 1031.5h11.6v11.15h-11.6zM1246.3 1056.2h11.6v11.15h-11.6zM1246.3 1080.9h11.6v11.15h-11.6zM1246.3 1105.6h11.6v11.15h-11.6zM1246.3 1130.3h11.6v11.15h-11.6zM1246.3 1155h11.6v11.15h-11.6zM1246.3 1179.7h11.6v11.15h-11.6zM1246.3 1204.4h11.6v11.15h-11.6zM1246.3 1229.1h11.6v11.15h-11.6zM1246.3 1253.8h11.6v11.15h-11.6zM1246.3 1278.5h11.6v11.15h-11.6zM1246.3 1303.2h11.6v11.15h-11.6zM1246.3 1327.9h11.6v11.15h-11.6zM1246.3 1352.6h11.6v11.15h-11.6zM1246.3 1377.3h11.6v11.15h-11.6zM1246.3 1402h11.6v11.15h-11.6zM1246.3 1426.7h11.6v11.15h-11.6zM1246.3 1451.4h11.6v11.15h-11.6zM1246.3 1476.1h11.6v11.15h-11.6zM1246.3 1500.8h11.6v11.15h-11.6zM1246.3 1525.5h11.6v11.15h-11.6zM1246.3 1550.2h11.6v11.15h-11.6zM1246.3 1574.9h11.6v11.15h-11.6zM1246.3 1599.6h11.6v6.1h-11.6zM1257.9 754.7h0.5v3.9h-0.5zM1257.9 772.15h0.5v11.15h-0.5zM1257.9 796.85h0.5v11.15h-0.5zM1257.9 821.55h0.5v11.15h-0.5zM1257.9 846.25h0.5v11.15h-0.5zM1257.9 870.95h0.5v11.15h-0.5zM1257.9 895.65h0.5v11.15h-0.5zM1257.9 920.35h0.5v11.15h-0.5zM1257.9 945.05h0.5v11.15h-0.5zM1257.9 969.75h0.5v11.15h-0.5zM1257.9 994.45h0.5v11.15h-0.5zM1257.9 1019.15h0.5v11.15h-0.5zM1257.9 1043.85h0.5v11.15h-0.5zM1257.9 1068.55h0.5v11.15h-0.5zM1257.9 1093.25h0.5v11.15h-0.5zM1257.9 1117.95h0.5v11.15h-0.5zM1257.9 1142.65h0.5v11.15h-0.5zM1257.9 1167.35h0.5v11.15h-0.5zM1257.9 1192.05h0.5v11.15h-0.5zM1257.9 1216.75h0.5v11.15h-0.5zM1257.9 1241.45h0.5v11.15h-0.5zM1257.9 1266.15h0.5v11.15h-0.5zM1257.9 1290.85h0.5v11.15h-0.5zM1257.9 1315.55h0.5v11.15h-0.5zM1257.9 1340.25h0.5v11.15h-0.5zM1257.9 1364.95h0.5v11.15h-0.5zM1257.9 1389.65h0.5v11.15h-0.5zM1257.9 1414.35h0.5v11.15h-0.5zM1257.9 1439.05h0.5v11.15h-0.5zM1257.9 1463.75h0.5v11.15h-0.5zM1257.9 1488.45h0.5v11.15h-0.5zM1257.9 1513.15h0.5v11.15h-0.5zM1257.9 1537.85h0.5v11.15h-0.5zM1257.9 1562.55h0.5v11.15h-0.5zM1257.9 1587.25h0.5v11.15h-0.5z"/>
<rect x="1239.35" y="729.7" width="10.8" height="16.2"/>
<rect x="1228.55" y="726.7" width="32.4" height="10.6" rx="8" ry="5.3"/>
<path d="M1279.2 1606V709Q1279.2 702 1286.2 702H1326.2Q1333.2 702 1333.2 709V1606z"/>
<rect x="1292.4" y="714.5" width="27.6" height="890.5" fill="#fff"/>
<path d="M1291.7 732.7h17v22.5h-17zM1291.7 782.1h17v22.5h-17zM1291.7 831.5h17v22.5h-17zM1291.7 880.9h17v22.5h-17zM1291.7 930.3h17v22.5h-17zM1291.7 979.7h17v22.5h-17zM1291.7 1029.1h17v22.5h-17zM1291.7 1078.5h17v22.5h-17zM1291.7 1127.9h17v22.5h-17zM1291.7 1177.3h17v22.5h-17zM1291.7 1226.7h17v22.5h-17zM1291.7 1276.1h17v22.5h-17zM1291.7 1325.5h17v22.5h-17zM1291.7 1374.9h17v22.5h-17zM1291.7 1424.3h17v22.5h-17zM1291.7 1473.7h17v22.5h-17zM1291.7 1523.1h17v22.5h-17zM1291.7 1572.5h17v22.5h-17zM1308.7 713.8h12v16.7h-12zM1308.7 757.4h12v22.5h-12zM1308.7 806.8h12v22.5h-12zM1308.7 856.2h12v22.5h-12zM1308.7 905.6h12v22.5h-12zM1308.7 955h12v22.5h-12zM1308.7 1004.4h12v22.5h-12zM1308.7 1053.8h12v22.5h-12zM1308.7 1103.2h12v22.5h-12zM1308.7 1152.6h12v22.5h-12zM1308.7 1202h12v22.5h-12zM1308.7 1251.4h12v22.5h-12zM1308.7 1300.8h12v22.5h-12zM1308.7 1350.2h12v22.5h-12zM1308.7 1399.6h12v22.5h-12zM1308.7 1449h12v22.5h-12zM1308.7 1498.4h12v22.5h-12zM1308.7 1547.8h12v22.5h-12zM1308.7 1597.2h12v8.5h-12z"/>
<rect x="1301.6" y="691.3" width="10.8" height="13.7"/>
<rect x="1290.8" y="688.3" width="32.4" height="10.9" rx="8" ry="5.45"/>
<path d="M1341.1 1606V518Q1341.1 511 1348.1 511H1388.3Q1395.3 511 1395.3 518V1606z"/>
<rect x="1354.5" y="523.5" width="27.4" height="1081.5" fill="#fff"/>
<path d="M1353.8 540.7h28.8v5.6h-28.8zM1353.8 565.6h28.8v5.6h-28.8zM1353.8 590.5h28.8v5.6h-28.8zM1353.8 615.4h28.8v5.6h-28.8zM1353.8 640.3h28.8v5.6h-28.8zM1353.8 665.2h28.8v5.6h-28.8zM1353.8 690.1h28.8v5.6h-28.8zM1353.8 715h28.8v5.6h-28.8zM1353.8 739.9h28.8v5.6h-28.8zM1353.8 764.8h28.8v5.6h-28.8zM1353.8 789.7h28.8v5.6h-28.8zM1353.8 814.6h28.8v5.6h-28.8zM1353.8 839.5h28.8v5.6h-28.8zM1353.8 864.4h28.8v5.6h-28.8zM1353.8 889.3h28.8v5.6h-28.8zM1353.8 914.2h28.8v5.6h-28.8zM1353.8 939.1h28.8v5.6h-28.8zM1353.8 964h28.8v5.6h-28.8zM1353.8 988.9h28.8v5.6h-28.8zM1353.8 1013.8h28.8v5.6h-28.8zM1353.8 1038.7h28.8v5.6h-28.8zM1353.8 1063.6h28.8v5.6h-28.8zM1353.8 1088.5h28.8v5.6h-28.8zM1353.8 1113.4h28.8v5.6h-28.8zM1353.8 1138.3h28.8v5.6h-28.8zM1353.8 1163.2h28.8v5.6h-28.8zM1353.8 1188.1h28.8v5.6h-28.8zM1353.8 1213h28.8v5.6h-28.8zM1353.8 1237.9h28.8v5.6h-28.8zM1353.8 1262.8h28.8v5.6h-28.8zM1353.8 1287.7h28.8v5.6h-28.8zM1353.8 1312.6h28.8v5.6h-28.8zM1353.8 1337.5h28.8v5.6h-28.8zM1353.8 1362.4h28.8v5.6h-28.8zM1353.8 1387.3h28.8v5.6h-28.8zM1353.8 1412.2h28.8v5.6h-28.8zM1353.8 1437.1h28.8v5.6h-28.8zM1353.8 1462h28.8v5.6h-28.8zM1353.8 1486.9h28.8v5.6h-28.8zM1353.8 1511.8h28.8v5.6h-28.8zM1353.8 1536.7h28.8v5.6h-28.8zM1353.8 1561.6h28.8v5.6h-28.8zM1353.8 1586.5h28.8v5.6h-28.8z"/>
<rect x="1363.6" y="495" width="10.8" height="19"/>
<rect x="1352.8" y="492" width="32.4" height="12.8" rx="8" ry="6"/>
<path d="M1403.3 1606V480Q1403.3 473 1410.3 473H1450.7Q1457.7 473 1457.7 480V1606z"/>
<rect x="1416.7" y="485.5" width="27.6" height="1119.5" fill="#fff"/>
<path d="M1427.5 485.5h5.6v1119.5h-5.6z"/>
<rect x="1425.9" y="462.3" width="10.8" height="13.7"/>
<rect x="1415.1" y="459.3" width="32.4" height="10.7" rx="8" ry="5.35"/>
<path d="M1509.1 1606V804.7Q1509.1 803.2 1510.6 803.2H1559.2Q1560.7 803.2 1560.7 804.7V1606z"/>
<rect x="1519.9" y="813.8" width="30" height="791.2" fill="#fff"/>
<path d="M1519.2 820.1h7.6v11.15h-7.6zM1519.2 844.8h7.6v11.15h-7.6zM1519.2 869.5h7.6v11.15h-7.6zM1519.2 894.2h7.6v11.15h-7.6zM1519.2 918.9h7.6v11.15h-7.6zM1519.2 943.6h7.6v11.15h-7.6zM1519.2 968.3h7.6v11.15h-7.6zM1519.2 993h7.6v11.15h-7.6zM1519.2 1017.7h7.6v11.15h-7.6zM1519.2 1042.4h7.6v11.15h-7.6zM1519.2 1067.1h7.6v11.15h-7.6zM1519.2 1091.8h7.6v11.15h-7.6zM1519.2 1116.5h7.6v11.15h-7.6zM1519.2 1141.2h7.6v11.15h-7.6zM1519.2 1165.9h7.6v11.15h-7.6zM1519.2 1190.6h7.6v11.15h-7.6zM1519.2 1215.3h7.6v11.15h-7.6zM1519.2 1240h7.6v11.15h-7.6zM1519.2 1264.7h7.6v11.15h-7.6zM1519.2 1289.4h7.6v11.15h-7.6zM1519.2 1314.1h7.6v11.15h-7.6zM1519.2 1338.8h7.6v11.15h-7.6zM1519.2 1363.5h7.6v11.15h-7.6zM1519.2 1388.2h7.6v11.15h-7.6zM1519.2 1412.9h7.6v11.15h-7.6zM1519.2 1437.6h7.6v11.15h-7.6zM1519.2 1462.3h7.6v11.15h-7.6zM1519.2 1487h7.6v11.15h-7.6zM1519.2 1511.7h7.6v11.15h-7.6zM1519.2 1536.4h7.6v11.15h-7.6zM1519.2 1561.1h7.6v11.15h-7.6zM1519.2 1585.8h7.6v11.15h-7.6zM1526.8 813.1h11.6v5.8h-11.6zM1526.8 832.45h11.6v11.15h-11.6zM1526.8 857.15h11.6v11.15h-11.6zM1526.8 881.85h11.6v11.15h-11.6zM1526.8 906.55h11.6v11.15h-11.6zM1526.8 931.25h11.6v11.15h-11.6zM1526.8 955.95h11.6v11.15h-11.6zM1526.8 980.65h11.6v11.15h-11.6zM1526.8 1005.35h11.6v11.15h-11.6zM1526.8 1030.05h11.6v11.15h-11.6zM1526.8 1054.75h11.6v11.15h-11.6zM1526.8 1079.45h11.6v11.15h-11.6zM1526.8 1104.15h11.6v11.15h-11.6zM1526.8 1128.85h11.6v11.15h-11.6zM1526.8 1153.55h11.6v11.15h-11.6zM1526.8 1178.25h11.6v11.15h-11.6zM1526.8 1202.95h11.6v11.15h-11.6zM1526.8 1227.65h11.6v11.15h-11.6zM1526.8 1252.35h11.6v11.15h-11.6zM1526.8 1277.05h11.6v11.15h-11.6zM1526.8 1301.75h11.6v11.15h-11.6zM1526.8 1326.45h11.6v11.15h-11.6zM1526.8 1351.15h11.6v11.15h-11.6zM1526.8 1375.85h11.6v11.15h-11.6zM1526.8 1400.55h11.6v11.15h-11.6zM1526.8 1425.25h11.6v11.15h-11.6zM1526.8 1449.95h11.6v11.15h-11.6zM1526.8 1474.65h11.6v11.15h-11.6zM1526.8 1499.35h11.6v11.15h-11.6zM1526.8 1524.05h11.6v11.15h-11.6zM1526.8 1548.75h11.6v11.15h-11.6zM1526.8 1573.45h11.6v11.15h-11.6zM1526.8 1598.15h11.6v7.55h-11.6zM1538.4 820.1h11.6v11.15h-11.6zM1538.4 844.8h11.6v11.15h-11.6zM1538.4 869.5h11.6v11.15h-11.6zM1538.4 894.2h11.6v11.15h-11.6zM1538.4 918.9h11.6v11.15h-11.6zM1538.4 943.6h11.6v11.15h-11.6zM1538.4 968.3h11.6v11.15h-11.6zM1538.4 993h11.6v11.15h-11.6zM1538.4 1017.7h11.6v11.15h-11.6zM1538.4 1042.4h11.6v11.15h-11.6zM1538.4 1067.1h11.6v11.15h-11.6zM1538.4 1091.8h11.6v11.15h-11.6zM1538.4 1116.5h11.6v11.15h-11.6zM1538.4 1141.2h11.6v11.15h-11.6zM1538.4 1165.9h11.6v11.15h-11.6zM1538.4 1190.6h11.6v11.15h-11.6zM1538.4 1215.3h11.6v11.15h-11.6zM1538.4 1240h11.6v11.15h-11.6zM1538.4 1264.7h11.6v11.15h-11.6zM1538.4 1289.4h11.6v11.15h-11.6zM1538.4 1314.1h11.6v11.15h-11.6zM1538.4 1338.8h11.6v11.15h-11.6zM1538.4 1363.5h11.6v11.15h-11.6zM1538.4 1388.2h11.6v11.15h-11.6zM1538.4 1412.9h11.6v11.15h-11.6zM1538.4 1437.6h11.6v11.15h-11.6zM1538.4 1462.3h11.6v11.15h-11.6zM1538.4 1487h11.6v11.15h-11.6zM1538.4 1511.7h11.6v11.15h-11.6zM1538.4 1536.4h11.6v11.15h-11.6zM1538.4 1561.1h11.6v11.15h-11.6zM1538.4 1585.8h11.6v11.15h-11.6zM1550 813.1h0.6v5.8h-0.6zM1550 832.45h0.6v11.15h-0.6zM1550 857.15h0.6v11.15h-0.6zM1550 881.85h0.6v11.15h-0.6zM1550 906.55h0.6v11.15h-0.6zM1550 931.25h0.6v11.15h-0.6zM1550 955.95h0.6v11.15h-0.6zM1550 980.65h0.6v11.15h-0.6zM1550 1005.35h0.6v11.15h-0.6zM1550 1030.05h0.6v11.15h-0.6zM1550 1054.75h0.6v11.15h-0.6zM1550 1079.45h0.6v11.15h-0.6zM1550 1104.15h0.6v11.15h-0.6zM1550 1128.85h0.6v11.15h-0.6zM1550 1153.55h0.6v11.15h-0.6zM1550 1178.25h0.6v11.15h-0.6zM1550 1202.95h0.6v11.15h-0.6zM1550 1227.65h0.6v11.15h-0.6zM1550 1252.35h0.6v11.15h-0.6zM1550 1277.05h0.6v11.15h-0.6zM1550 1301.75h0.6v11.15h-0.6zM1550 1326.45h0.6v11.15h-0.6zM1550 1351.15h0.6v11.15h-0.6zM1550 1375.85h0.6v11.15h-0.6zM1550 1400.55h0.6v11.15h-0.6zM1550 1425.25h0.6v11.15h-0.6zM1550 1449.95h0.6v11.15h-0.6zM1550 1474.65h0.6v11.15h-0.6zM1550 1499.35h0.6v11.15h-0.6zM1550 1524.05h0.6v11.15h-0.6zM1550 1548.75h0.6v11.15h-0.6zM1550 1573.45h0.6v11.15h-0.6zM1550 1598.15h0.6v7.55h-0.6z"/>
<rect x="1530.3" y="792.5" width="10.8" height="13.7"/>
<rect x="1519.5" y="789.5" width="32.4" height="11.5" rx="8" ry="5.75"/>
<path d="M1571.3 1606V856.3Q1571.3 854.8 1572.8 854.8H1621.1Q1622.6 854.8 1622.6 856.3V1606z"/>
<rect x="1582.1" y="866.8" width="29.7" height="738.2" fill="#fff"/>
<path d="M1581.4 885.5h19.4v22.5h-19.4zM1581.4 934.9h19.4v22.5h-19.4zM1581.4 984.3h19.4v22.5h-19.4zM1581.4 1033.7h19.4v22.5h-19.4zM1581.4 1083.1h19.4v22.5h-19.4zM1581.4 1132.5h19.4v22.5h-19.4zM1581.4 1181.9h19.4v22.5h-19.4zM1581.4 1231.3h19.4v22.5h-19.4zM1581.4 1280.7h19.4v22.5h-19.4zM1581.4 1330.1h19.4v22.5h-19.4zM1581.4 1379.5h19.4v22.5h-19.4zM1581.4 1428.9h19.4v22.5h-19.4zM1581.4 1478.3h19.4v22.5h-19.4zM1581.4 1527.7h19.4v22.5h-19.4zM1581.4 1577.1h19.4v22.5h-19.4zM1600.8 866.1h11.7v17.2h-11.7zM1600.8 910.2h11.7v22.5h-11.7zM1600.8 959.6h11.7v22.5h-11.7zM1600.8 1009h11.7v22.5h-11.7zM1600.8 1058.4h11.7v22.5h-11.7zM1600.8 1107.8h11.7v22.5h-11.7zM1600.8 1157.2h11.7v22.5h-11.7zM1600.8 1206.6h11.7v22.5h-11.7zM1600.8 1256h11.7v22.5h-11.7zM1600.8 1305.4h11.7v22.5h-11.7zM1600.8 1354.8h11.7v22.5h-11.7zM1600.8 1404.2h11.7v22.5h-11.7zM1600.8 1453.6h11.7v22.5h-11.7zM1600.8 1503h11.7v22.5h-11.7zM1600.8 1552.4h11.7v22.5h-11.7zM1600.8 1601.8h11.7v3.9h-11.7z"/>
<rect x="1592.35" y="838.5" width="10.8" height="19.3"/>
<rect x="1581.55" y="835.5" width="32.4" height="10.9" rx="8" ry="5.45"/>
<path d="M1633.5 1606V657Q1633.5 655.5 1635 655.5H1683.6Q1685.1 655.5 1685.1 657V1606z"/>
<rect x="1644.3" y="666.1" width="30" height="938.9" fill="#fff"/>
<path d="M1643.6 682.7h31.4v5.6h-31.4zM1643.6 707.6h31.4v5.6h-31.4zM1643.6 732.5h31.4v5.6h-31.4zM1643.6 757.4h31.4v5.6h-31.4zM1643.6 782.3h31.4v5.6h-31.4zM1643.6 807.2h31.4v5.6h-31.4zM1643.6 832.1h31.4v5.6h-31.4zM1643.6 857h31.4v5.6h-31.4zM1643.6 881.9h31.4v5.6h-31.4zM1643.6 906.8h31.4v5.6h-31.4zM1643.6 931.7h31.4v5.6h-31.4zM1643.6 956.6h31.4v5.6h-31.4zM1643.6 981.5h31.4v5.6h-31.4zM1643.6 1006.4h31.4v5.6h-31.4zM1643.6 1031.3h31.4v5.6h-31.4zM1643.6 1056.2h31.4v5.6h-31.4zM1643.6 1081.1h31.4v5.6h-31.4zM1643.6 1106h31.4v5.6h-31.4zM1643.6 1130.9h31.4v5.6h-31.4zM1643.6 1155.8h31.4v5.6h-31.4zM1643.6 1180.7h31.4v5.6h-31.4zM1643.6 1205.6h31.4v5.6h-31.4zM1643.6 1230.5h31.4v5.6h-31.4zM1643.6 1255.4h31.4v5.6h-31.4zM1643.6 1280.3h31.4v5.6h-31.4zM1643.6 1305.2h31.4v5.6h-31.4zM1643.6 1330.1h31.4v5.6h-31.4zM1643.6 1355h31.4v5.6h-31.4zM1643.6 1379.9h31.4v5.6h-31.4zM1643.6 1404.8h31.4v5.6h-31.4zM1643.6 1429.7h31.4v5.6h-31.4zM1643.6 1454.6h31.4v5.6h-31.4zM1643.6 1479.5h31.4v5.6h-31.4zM1643.6 1504.4h31.4v5.6h-31.4zM1643.6 1529.3h31.4v5.6h-31.4zM1643.6 1554.2h31.4v5.6h-31.4zM1643.6 1579.1h31.4v5.6h-31.4zM1643.6 1604h31.4v1.7h-31.4z"/>
<rect x="1654.7" y="639.5" width="10.8" height="19"/>
<rect x="1643.9" y="636.5" width="32.4" height="12.9" rx="8" ry="6"/>
<path d="M1696 1606V580.8Q1696 579.3 1697.5 579.3H1748.1Q1749.6 579.3 1749.6 580.8V1606z"/>
<rect x="1709" y="589.9" width="27.6" height="1015.1" fill="#fff"/>
<path d="M1719.85 589.9h5.6v1015.1h-5.6z"/>
<rect x="1718.2" y="568.6" width="10.8" height="13.7"/>
<rect x="1707.4" y="565.6" width="32.4" height="11.7" rx="8" ry="5.85"/>
<path d="M1801.2 1606V839.9Q1801.2 838.4 1802.7 838.4H1851.3Q1852.8 838.4 1852.8 839.9V1606z"/>
<rect x="1811.9" y="849" width="30.2" height="756" fill="#fff"/>
<path d="M1811.2 855.3h7.7v11.15h-7.7zM1811.2 880h7.7v11.15h-7.7zM1811.2 904.7h7.7v11.15h-7.7zM1811.2 929.4h7.7v11.15h-7.7zM1811.2 954.1h7.7v11.15h-7.7zM1811.2 978.8h7.7v11.15h-7.7zM1811.2 1003.5h7.7v11.15h-7.7zM1811.2 1028.2h7.7v11.15h-7.7zM1811.2 1052.9h7.7v11.15h-7.7zM1811.2 1077.6h7.7v11.15h-7.7zM1811.2 1102.3h7.7v11.15h-7.7zM1811.2 1127h7.7v11.15h-7.7zM1811.2 1151.7h7.7v11.15h-7.7zM1811.2 1176.4h7.7v11.15h-7.7zM1811.2 1201.1h7.7v11.15h-7.7zM1811.2 1225.8h7.7v11.15h-7.7zM1811.2 1250.5h7.7v11.15h-7.7zM1811.2 1275.2h7.7v11.15h-7.7zM1811.2 1299.9h7.7v11.15h-7.7zM1811.2 1324.6h7.7v11.15h-7.7zM1811.2 1349.3h7.7v11.15h-7.7zM1811.2 1374h7.7v11.15h-7.7zM1811.2 1398.7h7.7v11.15h-7.7zM1811.2 1423.4h7.7v11.15h-7.7zM1811.2 1448.1h7.7v11.15h-7.7zM1811.2 1472.8h7.7v11.15h-7.7zM1811.2 1497.5h7.7v11.15h-7.7zM1811.2 1522.2h7.7v11.15h-7.7zM1811.2 1546.9h7.7v11.15h-7.7zM1811.2 1571.6h7.7v11.15h-7.7zM1811.2 1596.3h7.7v9.4h-7.7zM1818.9 848.3h11.6v5.8h-11.6zM1818.9 867.65h11.6v11.15h-11.6zM1818.9 892.35h11.6v11.15h-11.6zM1818.9 917.05h11.6v11.15h-11.6zM1818.9 941.75h11.6v11.15h-11.6zM1818.9 966.45h11.6v11.15h-11.6zM1818.9 991.15h11.6v11.15h-11.6zM1818.9 1015.85h11.6v11.15h-11.6zM1818.9 1040.55h11.6v11.15h-11.6zM1818.9 1065.25h11.6v11.15h-11.6zM1818.9 1089.95h11.6v11.15h-11.6zM1818.9 1114.65h11.6v11.15h-11.6zM1818.9 1139.35h11.6v11.15h-11.6zM1818.9 1164.05h11.6v11.15h-11.6zM1818.9 1188.75h11.6v11.15h-11.6zM1818.9 1213.45h11.6v11.15h-11.6zM1818.9 1238.15h11.6v11.15h-11.6zM1818.9 1262.85h11.6v11.15h-11.6zM1818.9 1287.55h11.6v11.15h-11.6zM1818.9 1312.25h11.6v11.15h-11.6zM1818.9 1336.95h11.6v11.15h-11.6zM1818.9 1361.65h11.6v11.15h-11.6zM1818.9 1386.35h11.6v11.15h-11.6zM1818.9 1411.05h11.6v11.15h-11.6zM1818.9 1435.75h11.6v11.15h-11.6zM1818.9 1460.45h11.6v11.15h-11.6zM1818.9 1485.15h11.6v11.15h-11.6zM1818.9 1509.85h11.6v11.15h-11.6zM1818.9 1534.55h11.6v11.15h-11.6zM1818.9 1559.25h11.6v11.15h-11.6zM1818.9 1583.95h11.6v11.15h-11.6zM1830.5 855.3h11.6v11.15h-11.6zM1830.5 880h11.6v11.15h-11.6zM1830.5 904.7h11.6v11.15h-11.6zM1830.5 929.4h11.6v11.15h-11.6zM1830.5 954.1h11.6v11.15h-11.6zM1830.5 978.8h11.6v11.15h-11.6zM1830.5 1003.5h11.6v11.15h-11.6zM1830.5 1028.2h11.6v11.15h-11.6zM1830.5 1052.9h11.6v11.15h-11.6zM1830.5 1077.6h11.6v11.15h-11.6zM1830.5 1102.3h11.6v11.15h-11.6zM1830.5 1127h11.6v11.15h-11.6zM1830.5 1151.7h11.6v11.15h-11.6zM1830.5 1176.4h11.6v11.15h-11.6zM1830.5 1201.1h11.6v11.15h-11.6zM1830.5 1225.8h11.6v11.15h-11.6zM1830.5 1250.5h11.6v11.15h-11.6zM1830.5 1275.2h11.6v11.15h-11.6zM1830.5 1299.9h11.6v11.15h-11.6zM1830.5 1324.6h11.6v11.15h-11.6zM1830.5 1349.3h11.6v11.15h-11.6zM1830.5 1374h11.6v11.15h-11.6zM1830.5 1398.7h11.6v11.15h-11.6zM1830.5 1423.4h11.6v11.15h-11.6zM1830.5 1448.1h11.6v11.15h-11.6zM1830.5 1472.8h11.6v11.15h-11.6zM1830.5 1497.5h11.6v11.15h-11.6zM1830.5 1522.2h11.6v11.15h-11.6zM1830.5 1546.9h11.6v11.15h-11.6zM1830.5 1571.6h11.6v11.15h-11.6zM1830.5 1596.3h11.6v9.4h-11.6zM1842.1 848.3h0.7v5.8h-0.7zM1842.1 867.65h0.7v11.15h-0.7zM1842.1 892.35h0.7v11.15h-0.7zM1842.1 917.05h0.7v11.15h-0.7zM1842.1 941.75h0.7v11.15h-0.7zM1842.1 966.45h0.7v11.15h-0.7zM1842.1 991.15h0.7v11.15h-0.7zM1842.1 1015.85h0.7v11.15h-0.7zM1842.1 1040.55h0.7v11.15h-0.7zM1842.1 1065.25h0.7v11.15h-0.7zM1842.1 1089.95h0.7v11.15h-0.7zM1842.1 1114.65h0.7v11.15h-0.7zM1842.1 1139.35h0.7v11.15h-0.7zM1842.1 1164.05h0.7v11.15h-0.7zM1842.1 1188.75h0.7v11.15h-0.7zM1842.1 1213.45h0.7v11.15h-0.7zM1842.1 1238.15h0.7v11.15h-0.7zM1842.1 1262.85h0.7v11.15h-0.7zM1842.1 1287.55h0.7v11.15h-0.7zM1842.1 1312.25h0.7v11.15h-0.7zM1842.1 1336.95h0.7v11.15h-0.7zM1842.1 1361.65h0.7v11.15h-0.7zM1842.1 1386.35h0.7v11.15h-0.7zM1842.1 1411.05h0.7v11.15h-0.7zM1842.1 1435.75h0.7v11.15h-0.7zM1842.1 1460.45h0.7v11.15h-0.7zM1842.1 1485.15h0.7v11.15h-0.7zM1842.1 1509.85h0.7v11.15h-0.7zM1842.1 1534.55h0.7v11.15h-0.7zM1842.1 1559.25h0.7v11.15h-0.7zM1842.1 1583.95h0.7v11.15h-0.7z"/>
<rect x="1822.4" y="819.5" width="10.8" height="21.9"/>
<rect x="1812.5" y="816.5" width="30.6" height="10.7" rx="3" ry="3"/>
<path d="M1863.4 1606V861.6Q1863.4 860.1 1864.9 860.1H1913.4Q1914.9 860.1 1914.9 861.6V1606z"/>
<rect x="1874.1" y="872.1" width="30.1" height="732.9" fill="#fff"/>
<path d="M1873.4 890.8h19.5v22.5h-19.5zM1873.4 940.2h19.5v22.5h-19.5zM1873.4 989.6h19.5v22.5h-19.5zM1873.4 1039h19.5v22.5h-19.5zM1873.4 1088.4h19.5v22.5h-19.5zM1873.4 1137.8h19.5v22.5h-19.5zM1873.4 1187.2h19.5v22.5h-19.5zM1873.4 1236.6h19.5v22.5h-19.5zM1873.4 1286h19.5v22.5h-19.5zM1873.4 1335.4h19.5v22.5h-19.5zM1873.4 1384.8h19.5v22.5h-19.5zM1873.4 1434.2h19.5v22.5h-19.5zM1873.4 1483.6h19.5v22.5h-19.5zM1873.4 1533h19.5v22.5h-19.5zM1873.4 1582.4h19.5v22.5h-19.5zM1892.9 871.4h12v17.2h-12zM1892.9 915.5h12v22.5h-12zM1892.9 964.9h12v22.5h-12zM1892.9 1014.3h12v22.5h-12zM1892.9 1063.7h12v22.5h-12zM1892.9 1113.1h12v22.5h-12zM1892.9 1162.5h12v22.5h-12zM1892.9 1211.9h12v22.5h-12zM1892.9 1261.3h12v22.5h-12zM1892.9 1310.7h12v22.5h-12zM1892.9 1360.1h12v22.5h-12zM1892.9 1409.5h12v22.5h-12zM1892.9 1458.9h12v22.5h-12zM1892.9 1508.3h12v22.5h-12zM1892.9 1557.7h12v22.5h-12z"/>
<rect x="1884.55" y="844.1" width="10.8" height="19"/>
<rect x="1874.65" y="841.1" width="30.6" height="10.6" rx="3" ry="3"/>
<path d="M1925.9 1606V657Q1925.9 655.5 1927.4 655.5H1975.6Q1977.1 655.5 1977.1 657V1606z"/>
<rect x="1936.4" y="666.1" width="30.2" height="938.9" fill="#fff"/>
<path d="M1935.7 682.7h31.6v5.6h-31.6zM1935.7 707.6h31.6v5.6h-31.6zM1935.7 732.5h31.6v5.6h-31.6zM1935.7 757.4h31.6v5.6h-31.6zM1935.7 782.3h31.6v5.6h-31.6zM1935.7 807.2h31.6v5.6h-31.6zM1935.7 832.1h31.6v5.6h-31.6zM1935.7 857h31.6v5.6h-31.6zM1935.7 881.9h31.6v5.6h-31.6zM1935.7 906.8h31.6v5.6h-31.6zM1935.7 931.7h31.6v5.6h-31.6zM1935.7 956.6h31.6v5.6h-31.6zM1935.7 981.5h31.6v5.6h-31.6zM1935.7 1006.4h31.6v5.6h-31.6zM1935.7 1031.3h31.6v5.6h-31.6zM1935.7 1056.2h31.6v5.6h-31.6zM1935.7 1081.1h31.6v5.6h-31.6zM1935.7 1106h31.6v5.6h-31.6zM1935.7 1130.9h31.6v5.6h-31.6zM1935.7 1155.8h31.6v5.6h-31.6zM1935.7 1180.7h31.6v5.6h-31.6zM1935.7 1205.6h31.6v5.6h-31.6zM1935.7 1230.5h31.6v5.6h-31.6zM1935.7 1255.4h31.6v5.6h-31.6zM1935.7 1280.3h31.6v5.6h-31.6zM1935.7 1305.2h31.6v5.6h-31.6zM1935.7 1330.1h31.6v5.6h-31.6zM1935.7 1355h31.6v5.6h-31.6zM1935.7 1379.9h31.6v5.6h-31.6zM1935.7 1404.8h31.6v5.6h-31.6zM1935.7 1429.7h31.6v5.6h-31.6zM1935.7 1454.6h31.6v5.6h-31.6zM1935.7 1479.5h31.6v5.6h-31.6zM1935.7 1504.4h31.6v5.6h-31.6zM1935.7 1529.3h31.6v5.6h-31.6zM1935.7 1554.2h31.6v5.6h-31.6zM1935.7 1579.1h31.6v5.6h-31.6zM1935.7 1604h31.6v1.7h-31.6z"/>
<rect x="1946.9" y="636.9" width="10.8" height="21.6"/>
<rect x="1937" y="633.9" width="30.6" height="13.2" rx="3" ry="3"/>
<path d="M1988.2 1606V608.1Q1988.2 606.6 1989.7 606.6H2038Q2039.5 606.6 2039.5 608.1V1606z"/>
<rect x="1998.7" y="617.2" width="30.3" height="987.8" fill="#fff"/>
<path d="M2012.3 617.2h5.6v987.8h-5.6z"/>
<rect x="2009.25" y="593.2" width="10.8" height="16.4"/>
<rect x="1999.35" y="590.2" width="30.6" height="10.9" rx="3" ry="3"/>
</g>
<g id="axes" fill="#000">
<rect x="310.2" y="413" width="13.8" height="1205.3"/>
<rect x="279" y="1605" width="1823" height="13.3" rx="4"/>
<rect x="278.2" y="412.95" width="37" height="10.5" rx="0.8"/>
<rect x="278.2" y="811.75" width="37" height="10.5" rx="0.8"/>
<rect x="278.2" y="1208.15" width="37" height="10.5" rx="0.8"/>
<rect x="456.45" y="1612" width="10.7" height="38.8" rx="2.5"/>
<rect x="748.65" y="1612" width="10.7" height="38.8" rx="2.5"/>
<rect x="1039.9" y="1612" width="11" height="38.8" rx="2.5"/>
<rect x="1330.3" y="1612" width="13.8" height="38.8" rx="2.5"/>
<rect x="1622.6" y="1612" width="12.2" height="38.8" rx="2.5"/>
<rect x="1915.15" y="1612" width="10.7" height="38.8" rx="2.5"/>
</g>
<g id="brackets" fill="#000">
<path d="M426.8 628.5H497V663.4H491.7V634H432.1V663.4H426.8z"/>
<path d="M427.3 549H556.6V586.5H551.2V554.5H434.5V586.5H427.3z"/>
<path d="M716.5 606.4H788.9V644.4H782.7V611.8H724.1V644.4H716.5z"/>
<path d="M716.5 525H845.8V562.9H840.4V532.5H724.1V562.9H716.5z"/>
<path d="M1008.5 587.2H1078.8V625.4H1073.4V595H1013.9V625.4H1008.5z"/>
<path d="M1008.5 508.6H1138V545.8H1133V514.1H1013.9V545.8H1008.5z"/>
<path d="M1300.9 451.3H1373.4V488.2H1367.2V456.5H1307.9V488.2H1300.9z"/>
<path d="M1300.9 372H1430.6V407H1425V377.5H1307.9V407H1300.9z"/>
<path d="M1593.3 595.5H1663.1V631.2H1658.3V600.9H1598.1V631.2H1593.3z"/>
<path d="M1593.3 516.6H1722.8V553.8H1715.8V522H1598.1V553.8H1593.3z"/>
<path d="M1882.7 590.2H1953.3V627.9H1947.1V597.8H1888.5V627.9H1882.7z"/>
<path d="M1882.7 511H2012.1V548.8H2006.9V516.4H1888.5V548.8H1882.7z"/>
</g>
<g id="stars" class="st">
<text class="st" x="415.8" y="640.37" font-size="73" letter-spacing="0.97">***</text>
<text class="st" x="478.67" y="564.07" font-size="73" letter-spacing="0">*</text>
<text class="st" x="708.5" y="621.62" font-size="73" letter-spacing="1.77">***</text>
<text class="st" x="739.6" y="539.37" font-size="73" letter-spacing="0.97">***</text>
<text class="st" x="1000.2" y="602.26" font-size="73" letter-spacing="0.97">***</text>
<text class="st" x="1030.2" y="522.01" font-size="73" letter-spacing="0.77">***</text>
<text class="st" x="1290.3" y="465.97" font-size="73" letter-spacing="1.72">***</text>
<text class="st" x="1324.4" y="384.26" font-size="73" letter-spacing="1.02">***</text>
<text class="st" x="1582" y="607.77" font-size="73" letter-spacing="0.57">***</text>
<text class="st" x="1614.6" y="531.12" font-size="73" letter-spacing="0.97">***</text>
<text class="st" x="1871.6" y="605.26" font-size="73" letter-spacing="1.82">***</text>
<text class="st" x="1904.7" y="525.81" font-size="73" letter-spacing="1.77">***</text>
</g>
<g id="ticklabels" font-size="82.5">
<text y="1725.1"><tspan x="396.1" letter-spacing="0.97">12h</tspan></text>
<text y="1725.1"><tspan x="687.85" letter-spacing="0.7">24h</tspan></text>
<text y="1725.1"><tspan x="978.6" letter-spacing="0.57">36h</tspan></text>
<text y="1725.1"><tspan x="1272.71" textLength="126.81" lengthAdjust="spacingAndGlyphs">48h</tspan></text>
<text y="1725.1"><tspan x="1563.97" textLength="127.66" lengthAdjust="spacingAndGlyphs">60h</tspan></text>
<text y="1725.1"><tspan x="1854.41" textLength="128.23" lengthAdjust="spacingAndGlyphs">72h</tspan></text>
</g>
<g id="yticklabels" font-size="82" text-anchor="middle">
<text x="250" y="441.5">6</text>
<text x="250" y="840.3">4</text>
<text x="250" y="1236.7">2</text>
<text x="250" y="1634.9">0</text>
</g>
<text id="xtitle" y="1871.2" font-size="100"><tspan x="619.87" letter-spacing="0.12">Time</tspan> <tspan x="869.52" letter-spacing="1.15">points</tspan> <tspan x="1166.99" textLength="201.73" lengthAdjust="spacingAndGlyphs">after</tspan> <tspan x="1396.76" letter-spacing="2.55">infection</tspan></text>
<text id="ytitle" transform="translate(169.8,1704) rotate(-90)" font-size="98.5"><tspan x="-0.81" letter-spacing="1.1">PRRSV</tspan> <tspan x="350.99" letter-spacing="4.29">titers</tspan> <tspan x="621.53" letter-spacing="2.08">(Log</tspan> <tspan x="855.63" textLength="240.07" lengthAdjust="spacingAndGlyphs">TCID</tspan><tspan x="1092.6" letter-spacing="0.84" y="5.9" font-size="66.6">50</tspan><tspan x="1164.51" letter-spacing="0.67" y="0">/mL)</tspan></text>
<text id="panel" x="172.9" y="297" font-size="161">b</text>
<g id="legend" fill="#000">
<rect x="342.8" y="93.7" width="138.2" height="43.1" rx="3.5"/>
<rect x="342.8" y="156.6" width="138.2" height="41" rx="3.5"/>
<rect x="342.8" y="216.6" width="138.2" height="40.4" rx="3.5"/>
<rect x="342.8" y="279.4" width="138.2" height="40.5" rx="3.5"/>
<path fill="#fff" d="M353.7 107h7.5v3.6h-7.5zM372.7 107h10.7v3.6h-10.7zM396.9 107h11.1v3.6h-11.1zM418.7 107h13.5v3.6h-13.5zM443.3 107h12.3v3.6h-12.3zM467.1 107h2.8v3.6h-2.8zM353.7 110.4h116.2v2.4h-116.2zM361.2 112.6h11.1v11.4h-11.1zM383.4 112.6h13.1v11.4h-13.1zM408 112.6h10.3v11.4h-10.3zM432.2 112.6h10.7v11.4h-10.7zM456 112.6h11.1v11.4h-11.1z"/>
<path fill="#fff" d="M353.5 170h18.9v16.4h-18.9zM396.6 170h21.9v16.4h-21.9zM442.8 170h24.5v16.4h-24.5z"/>
<rect fill="#fff" x="353.5" y="227.3" width="116.5" height="16.4"/>
<path fill="#fff" d="M353.5 289.8H378V309.2H353.5zM383.2 289.8H408.8V309.2H383.2zM415.8 289.8H440.2V309.2H415.8zM445.4 289.8H470V309.2H445.4z"/>
</g>
<g id="legendtext" font-size="66.5">
<text y="142.5"><tspan x="547.28" textLength="221.15" lengthAdjust="spacingAndGlyphs">PRRSV</tspan></text>
<text y="204.8"><tspan x="547.3" letter-spacing="0.01">PRRSV+RNI</tspan></text>
<text y="264.5"><tspan x="547.32" textLength="398.37" lengthAdjust="spacingAndGlyphs">PRRSV+Anti-</tspan><tspan x="948.53" textLength="88.12" lengthAdjust="spacingAndGlyphs">Fcγ</tspan>  <tspan x="1069.85" textLength="70.51" lengthAdjust="spacingAndGlyphs">RI</tspan> <tspan x="1155.23" textLength="103.57" lengthAdjust="spacingAndGlyphs">IgG</tspan></text>
<text y="325"><tspan x="549.92" textLength="398.17" lengthAdjust="spacingAndGlyphs">PRRSV+Anti-</tspan><tspan x="950.82" textLength="88.83" lengthAdjust="spacingAndGlyphs">Fcγ</tspan>  <tspan x="1072.92" textLength="110.89" lengthAdjust="spacingAndGlyphs">RIII</tspan> <tspan x="1200.74" textLength="108.74" lengthAdjust="spacingAndGlyphs">IgG</tspan></text>
</g>
</svg></body></html>
